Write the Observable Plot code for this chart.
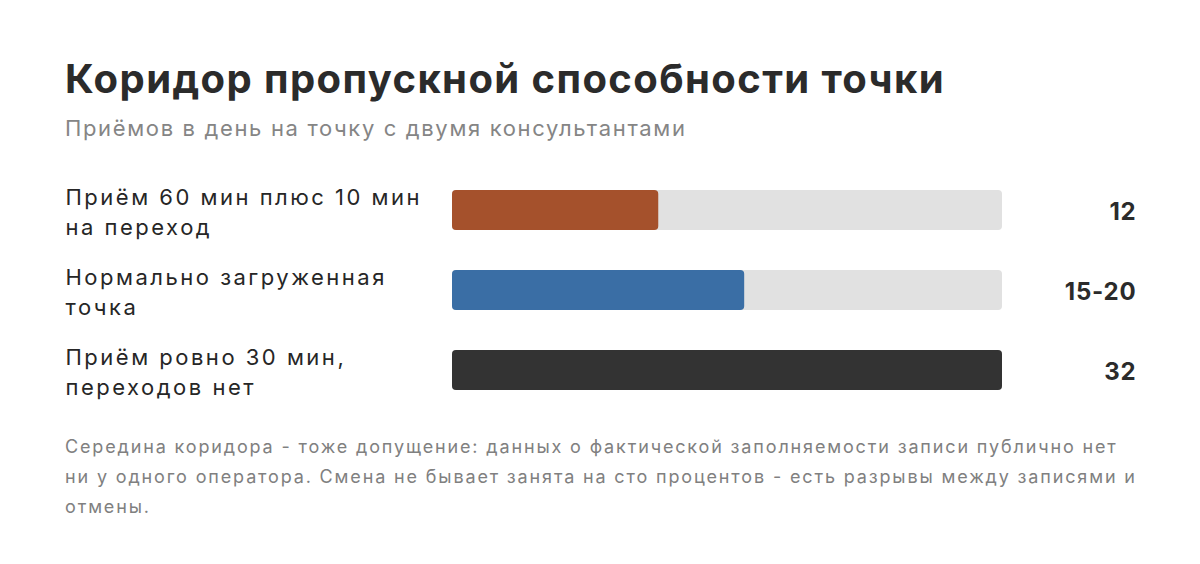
<!DOCTYPE html>
<html>
<head>
<meta charset="utf-8">
<script src="https://cdn.jsdelivr.net/npm/d3@7"></script>
<script src="https://cdn.jsdelivr.net/npm/@observablehq/plot@0.6"></script>
<style>
  html, body { margin: 0; padding: 0; background: #fff; }
  body { width: 1200px; height: 564px; overflow: hidden; font-family: Inter, "Noto Sans", sans-serif; }
  #title { position: absolute; left: 65px; top: 54px; font-size: 40px; font-weight: 700; color: #2b2b2b; white-space: nowrap; letter-spacing: 1.4px; }
  #subtitle { position: absolute; left: 65px; top: 115px; font-size: 22px; color: #858585; white-space: nowrap; letter-spacing: 1.65px; }
  #chart { position: absolute; left: 0; top: 170px; }
  #note { position: absolute; left: 65px; top: 432px; font-size: 18px; line-height: 30px; color: #808080; white-space: nowrap; letter-spacing: 1.85px; }
</style>
</head>
<body>
<div id="title"></div>
<div id="subtitle"></div>
<div id="chart"></div>
<div id="note"></div>
<script>
const titleText = "Коридор пропускной способности точки";
const subtitleText = "Приёмов в день на точку с двумя консультантами";
const noteLines = [
  "Середина коридора - тоже допущение: данных о фактической заполняемости записи публично нет",
  "ни у одного оператора. Смена не бывает занята на сто процентов - есть разрывы между записями и",
  "отмены."
];
const categories = [
  "Приём 60 мин плюс 10 мин\nна переход",
  "Нормально загруженная\nточка",
  "Приём ровно 30 мин,\nпереходов нет"
];
const values = [12, 17, 32];
const valueLabels = ["12", "15-20", "32"];
const colors = ["#a5512c", "#3a6ea5", "#333333"];
const maxValue = 32;

document.getElementById("title").textContent = titleText;
document.getElementById("subtitle").textContent = subtitleText;
document.getElementById("note").innerHTML = noteLines.map(s => `<div>${s}</div>`).join("");

const data = categories.map((c, i) => ({cat: c, value: values[i], label: valueLabels[i], color: colors[i], max: maxValue}));

const chart = Plot.plot({
  width: 1200,
  height: 240,
  marginLeft: 452,
  marginRight: 198,
  marginTop: 0,
  marginBottom: 0,
  x: {domain: [0, maxValue], axis: null},
  y: {domain: categories, axis: null, paddingInner: 0.5, paddingOuter: 0.25},
  style: {fontFamily: "Inter, 'Noto Sans', sans-serif", background: "transparent"},
  marks: [
    Plot.barX(data, {y: "cat", x1: 0, x2: "max", fill: "#e1e1e1", rx: 4}),
    Plot.barX(data, {y: "cat", x1: 0, x2: "value", fill: d => d.color, rx: 4}),
    Plot.text(data, {y: "cat", x: 0, text: "cat", dx: -387, textAnchor: "start", lineAnchor: "middle", lineHeight: 1.36, fontSize: 22, fill: "#262626", className: "cat-label"}),
    Plot.text(data, {y: "cat", x: "max", text: "label", dx: 134, dy: 2, textAnchor: "end", fontSize: 24, fontWeight: 700, fill: "#2b2b2b", className: "val-label"})
  ]
});
chart.querySelectorAll(".cat-label text").forEach(t => t.setAttribute("letter-spacing", "2.5"));
chart.querySelectorAll(".val-label text").forEach(t => t.setAttribute("letter-spacing", "0.8"));
document.getElementById("chart").appendChild(chart);
</script>
</body>
</html>
